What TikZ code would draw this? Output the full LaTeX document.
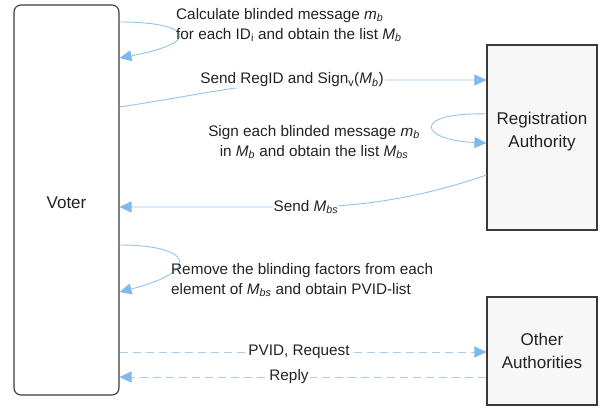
\documentclass[tikz,border=0pt]{standalone}
\usepackage{fontspec}
\setmainfont{Liberation Sans}
\usetikzlibrary{arrows.meta,calc}
\definecolor{boxline}{HTML}{3A3A3A}
\definecolor{flowc}{HTML}{93C4EA}
\definecolor{tipc}{HTML}{7DB9EC}
\definecolor{dashc}{HTML}{A9CCE8}
\definecolor{boxfill}{HTML}{F7F7F7}
\definecolor{txtc}{HTML}{222222}
\newcommand{\ital}[2]{\textit{#1}\textsubscript{\textit{#2}}}
\begin{document}
\begin{tikzpicture}[x=1pt,y=-1pt, font=\fontsize{15.3}{20}\selectfont,
  box/.style={draw=boxline, line width=1.1pt, inner sep=0pt},
  flow/.style={draw=flowc, line width=0.9pt, -{Triangle[length=12pt,width=11pt,fill=tipc,color=tipc]}},
  dflow/.style={flow, draw=dashc, dash pattern=on 8pt off 5pt},
  txt/.style={inner sep=1pt, text=txtc},
  lbl/.style={txt, fill=white},
  big/.style={txt, font=\fontsize{17}{23}\selectfont, align=center}]
\useasboundingbox (0,0) rectangle (605,407);
% boxes
\node[box, rounded corners=7pt, minimum width=105pt, minimum height=390pt, fill=white] (voter) at (66.5,200) {};
\node[big] (votertext) at ($(voter.center)+(0,3)$) {Voter};
\node[box, minimum width=110pt, minimum height=185pt, fill=boxfill] (ra) at (542,137.5) {};
\node[big] (ratext) at ($(ra.center)+(0,-6)$) {Registration\\Authority};
\node[box, minimum width=110pt, minimum height=108pt, fill=boxfill] (oa) at (542,351) {};
\node[big] (oatext) at (oa.center) {Other\\Authorities};
% connectors
\draw[flow] (voter.east |- 0,22) .. controls (190,22) and (205,42) .. (voter.east |- 0,58);
\draw[flow] (voter.east |- 0,107) .. controls (200,95) and (260,80) .. (330,80) -- (ra.west |- 0,80);
\draw[flow] (ra.west |- 0,114) .. controls (412,112) and (418,140) .. (ra.west |- 0,143);
\draw[flow] (ra.west |- 0,175) .. controls (420,198) and (360,207) .. (300,207) -- (voter.east |- 0,207);
\draw[flow] (voter.east |- 0,245) .. controls (190,245) and (205,270) .. (voter.east |- 0,292);
\draw[dflow] (voter.east |- 0,352) -- (oa.west |- 0,352);
\draw[dflow] (oa.west |- 0,377) -- (voter.east |- 0,377);
% labels
\node[txt, anchor=west, align=left] (l1) at (175,25) {Calculate blinded message \ital{m}{b}\\for each ID\textsubscript{i} and obtain the list \ital{M}{b}};
\node[lbl] (l2) at (292,80) {Send RegID and Sign\textsubscript{v}(\ital{M}{b})};
\node[txt, align=center] (l3) at (314,142) {Sign each blinded message \ital{m}{b}\\in \ital{M}{b} and obtain the list \ital{M}{bs}};
\node[lbl] (l4) at (306,207) {Send \ital{M}{bs}};
\node[txt, anchor=west, align=left] (l5) at (170,280) {Remove the blinding factors from each\\element of \ital{M}{bs} and obtain PVID-list};
\node[lbl] (l6) at (299,352) {PVID, Request};
\node[lbl] (l7) at (289,377) {Reply};
\end{tikzpicture}
\end{document}
